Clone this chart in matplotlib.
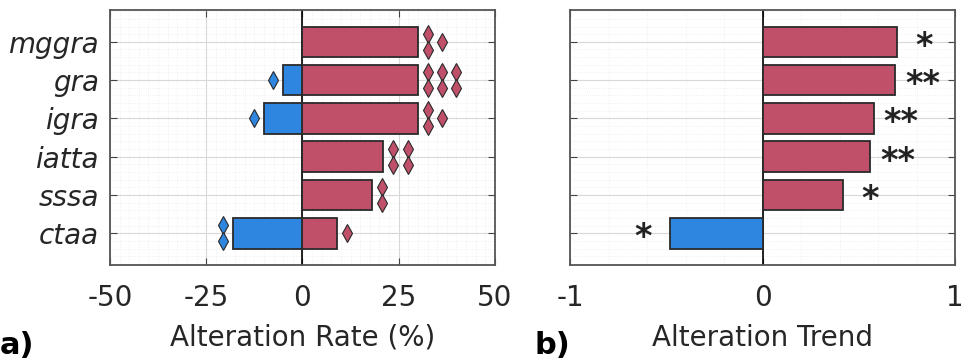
import matplotlib.pyplot as plt
from matplotlib.ticker import MultipleLocator

# datos
categorias = ['mggra', 'gra', 'igra', 'iatta', 'sssa', 'ctaa']
tasa_pos = [30, 30, 30, 21, 18, 9]
tasa_neg = [0, -5, -10, 0, 0, -18]
rombos_pos = [3, 6, 3, 4, 2, 1]
rombos_neg = [0, 1, 1, 0, 0, 2]
tendencia = [0.70, 0.69, 0.58, 0.56, 0.42, -0.48]
estrellas = ['*', '**', '**', '**', '*', '*']

rojo = '#C0506A'
azul = '#2E86E0'
borde = '#2a2a2a'

plt.rcParams['font.family'] = ['DejaVu Sans']
plt.rcParams['axes.unicode_minus'] = False

fig = plt.figure(figsize=(9.63, 3.6), dpi=100)
ax1 = fig.add_axes([0.1142, 0.264, 0.3998, 0.708])
ax2 = fig.add_axes([0.592, 0.264, 0.3998, 0.708])

y = list(range(1, len(categorias) + 1))[::-1]


def estilo(ax):
    ax.set_ylim(0.17, 6.83)
    ax.set_yticks(y)
    ax.yaxis.set_minor_locator(MultipleLocator(0.2))
    ax.grid(True, which='major', color='#d8d8d8', lw=0.8)
    ax.grid(True, which='minor', color='#ececec', lw=0.6, ls=':')
    ax.set_axisbelow(True)
    ax.tick_params(which='both', direction='in', top=True, right=True,
                   labelsize=20, color='#444444', labelcolor='#262626')
    ax.tick_params(which='minor', length=0)
    ax.tick_params(which='major', length=5, pad=14)
    ax.tick_params(axis='y', which='major', pad=8)
    for s in ax.spines.values():
        s.set_color('#555555')
        s.set_linewidth(1.3)
    ax.axvline(0, color='black', lw=1.2, zorder=2)


# panel a)
ax1.barh(y, tasa_pos, height=0.8, color=rojo, edgecolor=borde, lw=1.3, zorder=3)
ax1.barh(y, tasa_neg, height=0.8, color=azul, edgecolor=borde, lw=1.3, zorder=3)
ax1.set_xlim(-50, 50)
ax1.set_xticks([-50, -25, 0, 25, 50])
ax1.xaxis.set_minor_locator(MultipleLocator(2.5))
estilo(ax1)
ax1.set_yticklabels(categorias, style='italic')
ax1.set_xlabel('Alteration Rate (%)', fontsize=20, labelpad=8, color='#262626')


def dibujar_rombos(ax, yc, x0, n, signo, color):
    # columnas de dos rombos, el impar va centrado
    col = 0
    resto = n
    while resto > 0:
        xc = x0 + signo * (2.6 + col * 3.7)
        if resto >= 2:
            ax.plot([xc, xc], [yc + 0.21, yc - 0.21], ls='none', marker='d',
                    ms=9, mfc=color, mec=borde, mew=0.8, zorder=4)
            resto -= 2
        else:
            ax.plot([xc], [yc], ls='none', marker='d', ms=9, mfc=color,
                    mec=borde, mew=0.8, zorder=4)
            resto -= 1
        col += 1


for yi, v, n in zip(y, tasa_pos, rombos_pos):
    dibujar_rombos(ax1, yi, v, n, 1, rojo)
for yi, v, n in zip(y, tasa_neg, rombos_neg):
    dibujar_rombos(ax1, yi, v, n, -1, azul)

# panel b)
colores = [rojo if t > 0 else azul for t in tendencia]
ax2.barh(y, tendencia, height=0.8, color=colores, edgecolor=borde, lw=1.3, zorder=3)
ax2.set_xlim(-1, 1)
ax2.set_xticks([-1, 0, 1])
ax2.xaxis.set_minor_locator(MultipleLocator(0.2))
estilo(ax2)
ax2.set_yticklabels([])
ax2.set_xlabel('Alteration Trend', fontsize=20, labelpad=8, color='#262626')

for yi, t, s in zip(y, tendencia, estrellas):
    xt = t + 0.14 if t > 0 else t - 0.14
    ax2.text(xt, yi - 0.12, s, ha='center', va='center', fontsize=24,
             fontweight='bold', color='#222222', zorder=4)

fig.text(0.0, 0.0, 'a)', fontsize=22, fontweight='bold', ha='left', va='bottom')
fig.text(0.555, 0.0, 'b)', fontsize=22, fontweight='bold', ha='left', va='bottom')

fig.savefig('out.png', dpi=100)
